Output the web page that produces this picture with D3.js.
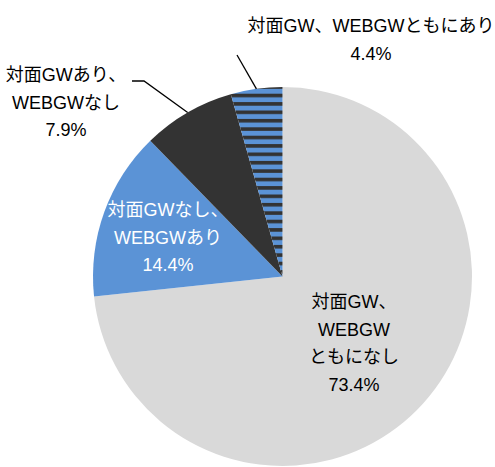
<!DOCTYPE html>
<html lang="ja">
<head>
<meta charset="utf-8">
<script src="https://cdn.jsdelivr.net/npm/d3@7"></script>
<style>
  html, body { margin: 0; padding: 0; background: #fff; }
  svg { display: block; }
  text { font-family: "Liberation Sans", Arial, "Noto Sans CJK JP", sans-serif; font-size: 18px; }
</style>
</head>
<body>
<div id="chart"></div>
<script>
// Categories and their shares (%), in clockwise order from 12 o'clock
const categories = [
  "対面GW、WEBGWともになし",
  "対面GWなし、WEBGWあり",
  "対面GWあり、WEBGWなし",
  "対面GW、WEBGWともにあり"
];
const shares = [73.4, 14.4, 7.9, 4.4];
// Label text, split into lines as displayed
const labelLines = [
  ["対面GW、", "WEBGW", "ともになし"],
  ["対面GWなし、", "WEBGWあり"],
  ["対面GWあり、", "WEBGWなし"],
  ["対面GW、WEBGWともにあり"]
];

const W = 495, H = 467;
const cx = 282.5, cy = 276.5, R = 189.5;
const lineH = 27.5;

const fills = ["#d9d9d9", "#5b93d6", "#333333", "url(#stripes)"];
const textColors = ["#000", "#fff", "#000", "#000"];

// Label block placement: center x and first baseline y; leader = elbow points for outside labels
const labelLayout = [
  { x: 354, y: 308, leader: null },
  { x: 168, y: 216, leader: null },
  { x: 66,  y: 81,  leader: [[132, 81], [144, 81]] },
  { x: 371, y: 32,  leader: [[237, 55]] }
];

const svg = d3.select("#chart").append("svg")
  .attr("width", W).attr("height", H);

// Horizontal stripe fill: blue with dark bands
const defs = svg.append("defs");
const pat = defs.append("pattern")
  .attr("id", "stripes")
  .attr("patternUnits", "userSpaceOnUse")
  .attr("x", 0).attr("y", 86)
  .attr("width", 8).attr("height", 8.4);
pat.append("rect").attr("width", 8).attr("height", 8.4).attr("fill", "#5b93d6");
pat.append("rect").attr("width", 8).attr("height", 3.6).attr("fill", "#333333");

const data = categories.map((c, i) => ({ category: c, value: shares[i], i }));

const pie = d3.pie().value(d => d.value).sort(null).startAngle(0).endAngle(2 * Math.PI);
const arcs = pie(data);
const arc = d3.arc().innerRadius(0).outerRadius(R);

const g = svg.append("g").attr("transform", `translate(${cx},${cy})`);

g.selectAll("path.slice")
  .data(arcs)
  .join("path")
  .attr("class", "slice")
  .attr("d", arc)
  .attr("fill", d => fills[d.data.i]);

// Leader lines from the slice rim to outside labels
const rimArc = d3.arc().innerRadius(R).outerRadius(R);
arcs.forEach(a => {
  const lay = labelLayout[a.data.i];
  if (!lay.leader) return;
  const mid = (a.startAngle + a.endAngle) / 2;
  const px = cx + R * Math.sin(mid), py = cy - R * Math.cos(mid);
  const pts = lay.leader.concat([[px, py]]);
  svg.append("path")
    .attr("d", d3.line()(pts))
    .attr("fill", "none")
    .attr("stroke", "#000")
    .attr("stroke-width", 1.3);
});

// Labels: category lines followed by the percentage
arcs.forEach(a => {
  const i = a.data.i;
  const lay = labelLayout[i];
  const lines = labelLines[i].concat([d3.format(".1f")(a.data.value) + "%"]);
  const t = svg.append("text")
    .attr("text-anchor", "middle")
    .attr("fill", textColors[i]);
  lines.forEach((s, k) => {
    t.append("tspan")
      .attr("x", lay.x)
      .attr("y", lay.y + k * lineH)
      .text(s);
  });
});
</script>
</body>
</html>
